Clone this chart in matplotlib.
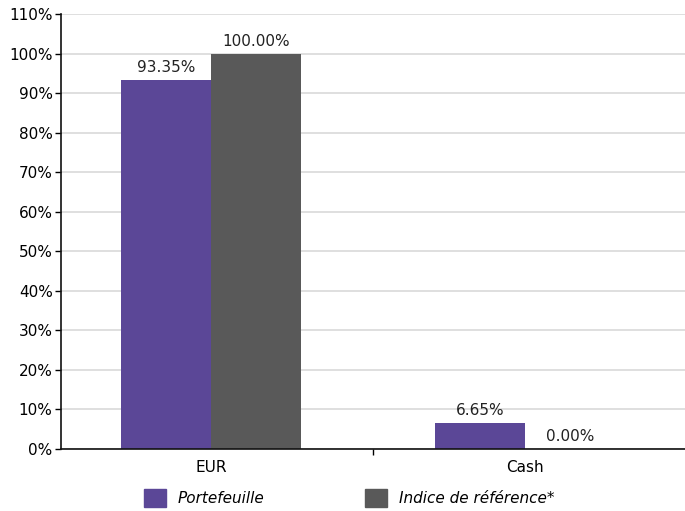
import numpy as np
import matplotlib.pyplot as plt
from matplotlib.patches import Patch

categories = ["EUR", "Cash"]
portefeuille = [93.35, 6.65]
indice = [100.00, 0.00]
series_names = ["Portefeuille", "Indice de référence*"]

PURPLE = "#5b4797"
GREY = "#595959"

plt.rcParams['font.family'] = ['DejaVu Sans']

fig = plt.figure(figsize=(6.85, 5.11), dpi=100)
ax = fig.add_axes([61 / 685, 1 - 449 / 511, 624 / 685, 435 / 511])

x = np.arange(len(categories))
w = 0.287
b1 = ax.bar(x - w / 2, portefeuille, w, color=PURPLE, zorder=2)
b2 = ax.bar(x + w / 2, indice, w, color=GREY, zorder=2)

for bars, vals in ((b1, portefeuille), (b2, indice)):
    for r, v in zip(bars, vals):
        ax.annotate(f"{v:.2f}%", (r.get_x() + r.get_width() / 2, v),
                    xytext=(0, 3.5), textcoords="offset points",
                    ha="center", va="bottom", fontsize=11, color="#222222")

ax.set_ylim(0, 110)
ax.set_xlim(-0.478, 1.51)
ax.set_yticks(np.arange(0, 111, 10))
ax.set_yticklabels([f"{t}%" for t in range(0, 111, 10)])
ax.set_xticks(x)
ax.set_xticklabels(categories)
ax.set_xticks([0.516], minor=True)
ax.tick_params(axis="x", which="major", length=0, pad=8, labelsize=11)
ax.tick_params(axis="x", which="minor", length=4, width=1, direction="out")
ax.tick_params(axis="y", length=4, width=1, labelsize=11, pad=2)
ax.yaxis.grid(True, color="#d9d9d9", linewidth=1.2, zorder=0)
ax.set_axisbelow(True)
for s in ("top", "right"):
    ax.spines[s].set_visible(False)
for s in ("left", "bottom"):
    ax.spines[s].set_color("#111111")
    ax.spines[s].set_linewidth(1.2)

handles = [Patch(color=PURPLE), Patch(color=GREY)]
fig.legend(handles, series_names, loc="center", bbox_to_anchor=(0.51, 0.026),
           ncol=2, frameon=False, prop={"style": "italic", "size": 11},
           handlelength=1.4, handleheight=1.4, handletextpad=0.8,
           columnspacing=6.6)

fig.savefig("out.png", dpi=100)
